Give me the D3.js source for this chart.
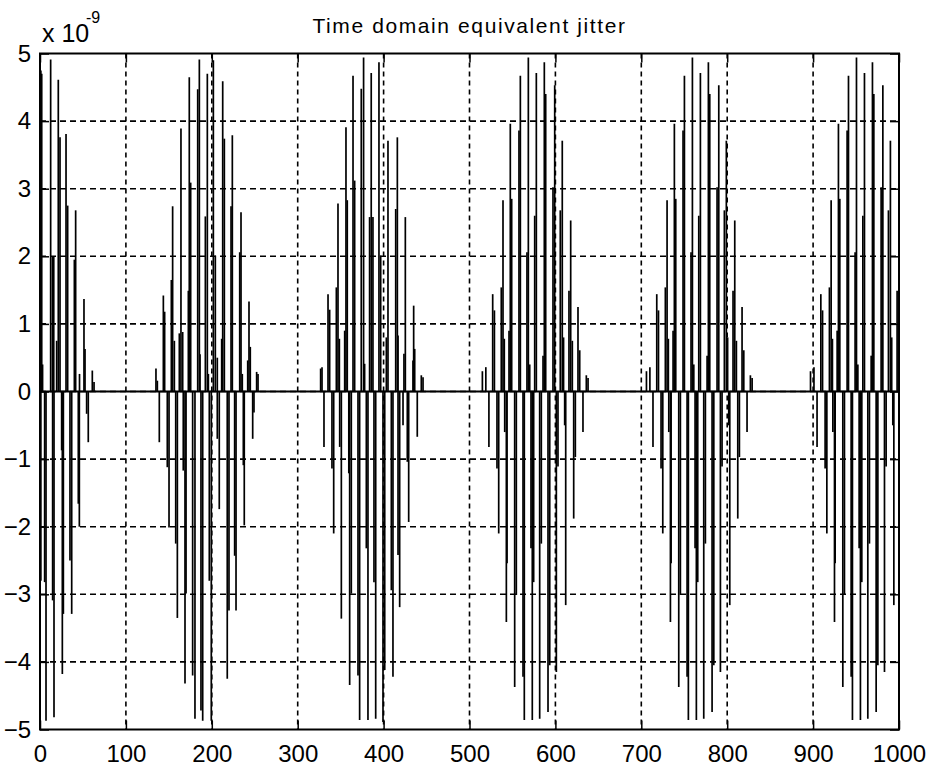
<!DOCTYPE html>
<html>
<head>
<meta charset="utf-8">
<script src="https://cdn.jsdelivr.net/npm/d3@7"></script>
<style>
  body { margin: 0; background: #fff; }
  text { font-family: "Liberation Sans", Arial, sans-serif; fill: #000; }
</style>
</head>
<body>
<div id="chart"></div>
<script>
// axis ticks
const xTicks = [0, 100, 200, 300, 400, 500, 600, 700, 800, 900, 1000];
const yTicks = [-5, -4, -3, -2, -1, 0, 1, 2, 3, 4, 5];

// spikes: [sample, value in 1e-9]
const burst1 = [
  [1, 4.75], [2, 4.70], [3, 0.4], [12.4, 4.91], [14.5, 2.0], [16, 2.0], [19.4, 0.75],
  [21.3, 4.61], [23.3, 3.76], [30.3, 3.81], [32.2, 2.75], [40, 1.95], [41.5, 2.68],
  [46, 0.26], [51.2, 1.37], [52.4, 0.63], [60.9, 0.31], [62.9, 0.14],
  [1, -2.8], [5.4, -2.82], [7, -4.87], [14.7, -3.09], [16.3, -4.82], [25.2, -0.87],
  [26, -4.18], [27.2, -3.29], [34.9, -2.5], [36.9, -3.29], [44.6, -1.66], [45.8, -2.0],
  [54.3, -0.33], [56.2, -0.75]
];
const burst2 = [
  [135, 0.34], [136.6, 0.16], [143.6, 1.42], [145.1, 1.18], [152.9, 1.65], [154.4, 2.74],
  [156.4, 0.75], [162.2, 0.86], [164.1, 3.89], [166.1, 0.88], [172.7, 1.49], [173.8, 4.65],
  [175.4, 3.09], [183.6, 4.47], [185.5, 4.91], [186.3, 0.55], [192.5, 2.59], [194.8, 4.70],
  [196, 0.26], [201.8, 4.90], [204.1, 2.01], [206.4, 0.5], [211.5, 0.78], [212.7, 4.59],
  [214.6, 3.74], [222.4, 2.74], [223.9, 3.79], [232.5, 2.06], [234, 2.65], [235.5, 0.26],
  [241.8, 0.46], [243.3, 1.33], [244.8, 0.66], [252.2, 0.29], [253.8, 0.26],
  [138.9, -0.75], [148.2, -1.12], [150.2, -2.01], [158, -2.25], [159.9, -3.35], [166.8, -1.17],
  [168.8, -4.32], [170, -2.99], [177.7, -4.2], [180.4, -4.84], [187.4, -4.72], [189.4, -4.87],
  [197.1, -2.8], [199.4, -4.87], [206.4, -0.7], [208.7, -1.74], [218, -4.25], [220, -3.24],
  [226.6, -2.43], [228.2, -3.24], [236.7, -1.09], [237.8, -1.98], [247.6, -0.7], [249.1, -0.31]
];
const burst3 = [
  [326.7, 0.34], [328.3, 0.36], [335.3, 1.44], [337.2, 1.21], [345, 1.54], [346.9, 2.78],
  [348.5, 0.78], [354.7, 0.90], [356.2, 3.91], [357.7, 2.83], [364.4, 4.67], [366.3, 3.12],
  [374, 4.48], [376.7, 4.94], [377.9, 0.41], [383.7, 2.58], [385.6, 4.71], [387.6, 2.58],
  [394.6, 4.87], [396.6, 2.01], [403.2, 0.8], [405.1, 3.71], [414.1, 2.70], [416, 3.76],
  [416.8, 0.83], [423.7, 0.56], [425.3, 2.58], [434.2, 0.46], [435, 1.27], [436.2, 0.63],
  [443.9, 0.24], [445.9, 0.21],
  [330.6, -0.82], [339.9, -1.14], [341.9, -2.1], [348.9, -0.82], [350.8, -3.36], [359.5, -1.21],
  [360.5, -4.34], [362.4, -2.99], [370.2, -4.2], [372.1, -4.86], [379.9, -2.32], [381.8, -4.86],
  [388.8, -2.82], [390.8, -4.84], [399.3, -4.89], [401.3, -4.12], [409, -2.94], [410.9, -4.22],
  [416.8, -2.42], [418.7, -3.19], [422.6, -0.5], [427.6, -1.04], [429.2, -1.93], [439.2, -0.67]
];
const burst4 = [
  [515, 0.3], [519, 0.36], [527, 1.44], [529, 1.2], [537, 1.54], [539, 2.83], [540.5, 0.78],
  [546, 0.9], [547.5, 3.96], [549.1, 2.85], [557.6, 3.86], [559.2, 4.67], [566.9, 2.06],
  [568.5, 4.94], [570.1, 0.4], [575.9, 2.60], [577.8, 4.71], [585.6, 0.53], [587.1, 4.87],
  [588.7, 4.40], [597.2, 3.02], [599.2, 4.53], [605.7, 2.68], [608, 3.71], [609.5, 0.8],
  [615.8, 1.49], [617.8, 2.53], [619.7, 0.75], [626.3, 1.25], [628.3, 0.61], [636, 0.24], [638, 0.2],
  [522.6, -0.82], [532, -1.14], [534, -2.1], [541, -0.6], [542.9, -3.41], [543.7, -2.54],
  [552.6, -4.37], [554.5, -3.01], [562.3, -4.22], [563.8, -4.86], [571.6, -2.32], [573.1, -4.86],
  [574.7, -2.82], [581.7, -4.84], [583.6, -2.25], [591.4, -4.74], [593.4, -4.05], [601.1, -4.15],
  [603, -1.11], [610.8, -0.5], [612, -3.16], [621.3, -1.88], [623.2, -0.97], [632.1, -0.6]
];
const burst5 = [
  [706, 0.3], [710, 0.36], [718, 1.44], [720, 1.2], [728, 1.54], [730, 2.83], [731.5, 0.78],
  [737, 0.9], [738.5, 3.96], [740.1, 2.85], [748.6, 3.86], [750.2, 4.67], [757.9, 2.06],
  [759.5, 4.94], [761.1, 0.4], [766.9, 2.6], [768.8, 4.71], [776.6, 0.53], [778.1, 4.87],
  [779.7, 4.4], [788.2, 3.02], [790.2, 4.53], [796.7, 2.68], [799, 3.71], [800.5, 0.8],
  [806.8, 1.49], [808.8, 2.53], [810.7, 0.75], [817.3, 1.25], [819.3, 0.61], [827, 0.24], [829, 0.2],
  [713.6, -0.82], [723, -1.14], [725, -2.1], [732, -0.6], [733.9, -3.41], [734.7, -2.54],
  [743.6, -4.37], [745.5, -3.01], [753.3, -4.22], [754.8, -4.86], [762.6, -2.32], [764.1, -4.86],
  [765.7, -2.82], [772.7, -4.84], [774.6, -2.25], [782.4, -4.74], [784.4, -4.05], [792.1, -4.15],
  [794, -1.11], [801.8, -0.5], [803, -3.16], [812.3, -1.88], [814.2, -0.97], [823.1, -0.6]
];
const burst6 = [
  [897, 0.3], [901, 0.36], [909, 1.44], [911, 1.2], [919, 1.54], [921, 2.83], [922.5, 0.78],
  [928, 0.9], [929.5, 3.96], [931.1, 2.85], [939.6, 3.86], [941.2, 4.67], [948.9, 2.06],
  [950.5, 4.94], [952.1, 0.4], [957.9, 2.6], [959.8, 4.71], [967.6, 0.53], [969.1, 4.87],
  [970.7, 4.4], [979.2, 3.02], [981.2, 4.53], [987.7, 2.68], [990, 3.71], [991.5, 0.8],
  [997.8, 1.49], [999.8, 2.53],
  [904.6, -0.82], [914, -1.14], [916, -2.1], [923, -0.6], [924.9, -3.41], [925.7, -2.54],
  [934.6, -4.37], [936.5, -3.01], [944.3, -4.22], [945.8, -4.86], [953.6, -2.32], [955.1, -4.86],
  [956.7, -2.82], [963.7, -4.84], [965.6, -2.25], [973.4, -4.74], [975.4, -4.05], [983.1, -4.15],
  [985, -1.11], [992.8, -0.5], [994, -3.16], [1000, -2.0]
];
// flat part of the signal between bursts
const baseline = [[0, 0], [1000, 0]];

const W = 929, H = 767;
const margin = {top: 53.5, right: 30, bottom: 37.5, left: 40};
const width = W - margin.left - margin.right;
const height = H - margin.top - margin.bottom;

const svg = d3.select("#chart")
  .append("svg")
    .attr("width", W)
    .attr("height", H)
  .append("g")
    .attr("transform", `translate(${margin.left},${margin.top})`);

const x = d3.scaleLinear().domain([0, 1000]).range([0, width]);
const y = d3.scaleLinear().domain([-5, 5]).range([height, 0]);

// dashed grid
svg.append("g")
  .selectAll("line")
  .data(xTicks.slice(1, -1))
  .join("line")
    .attr("x1", d => x(d)).attr("x2", d => x(d))
    .attr("y1", 0).attr("y2", height)
    .attr("stroke", "#000")
    .attr("stroke-width", 1.6)
    .attr("stroke-dasharray", "5,4");
svg.append("g")
  .selectAll("line")
  .data(yTicks.slice(1, -1))
  .join("line")
    .attr("x1", 0).attr("x2", width)
    .attr("y1", d => y(d)).attr("y2", d => y(d))
    .attr("stroke", "#000")
    .attr("stroke-width", 1.6)
    .attr("stroke-dasharray", "6,4");

// signal
const spikes = [].concat(burst1, burst2, burst3, burst4, burst5, burst6);
svg.append("path")
  .datum(baseline)
  .attr("fill", "none")
  .attr("stroke", "#000")
  .attr("stroke-width", 2)
  .attr("d", d3.line().x(d => x(d[0])).y(d => y(d[1])));
svg.append("g")
  .selectAll("line")
  .data(spikes)
  .join("line")
    .attr("x1", d => x(d[0])).attr("x2", d => x(d[0]))
    .attr("y1", y(0))
    .attr("y2", d => y(d[1]))
    .attr("stroke", "#000")
    .attr("stroke-width", 1.7);

// axes, ticks inside on all four sides
const fs = "24px";
const xb = svg.append("g")
  .attr("transform", `translate(0,${height})`)
  .call(d3.axisBottom(x).tickValues(xTicks).tickSize(-9).tickPadding(15).tickFormat(d3.format("d")));
const yl = svg.append("g")
  .call(d3.axisLeft(y).tickValues(yTicks).tickSize(-9).tickPadding(9).tickFormat(d3.format("d")));
svg.append("g")
  .call(d3.axisTop(x).tickValues(xTicks).tickSize(-9).tickFormat(""));
svg.append("g")
  .attr("transform", `translate(${width},0)`)
  .call(d3.axisRight(y).tickValues(yTicks).tickSize(-9).tickFormat(""));

svg.selectAll(".domain").remove();
svg.selectAll(".tick line").attr("stroke", "#000").attr("stroke-width", 1.5);
xb.selectAll("text").style("font-size", fs).style("font-family", "Liberation Sans, Arial");
yl.selectAll("text").style("font-size", fs).style("font-family", "Liberation Sans, Arial");

// box
svg.append("rect")
  .attr("width", width)
  .attr("height", height)
  .attr("fill", "none")
  .attr("stroke", "#000")
  .attr("stroke-width", 2);

// title
svg.append("text")
  .attr("x", width / 2)
  .attr("y", 33 - margin.top)
  .attr("text-anchor", "middle")
  .style("font-size", "21px")
  .style("letter-spacing", "1.6px")
  .text("Time domain equivalent jitter");

// exponent label
svg.append("text")
  .attr("x", 42 - margin.left)
  .attr("y", 42 - margin.top)
  .style("font-size", "25px")
  .text("x 10");
svg.append("text")
  .attr("x", 86 - margin.left)
  .attr("y", 23 - margin.top)
  .style("font-size", "16px")
  .text("-9");
</script>
</body>
</html>
